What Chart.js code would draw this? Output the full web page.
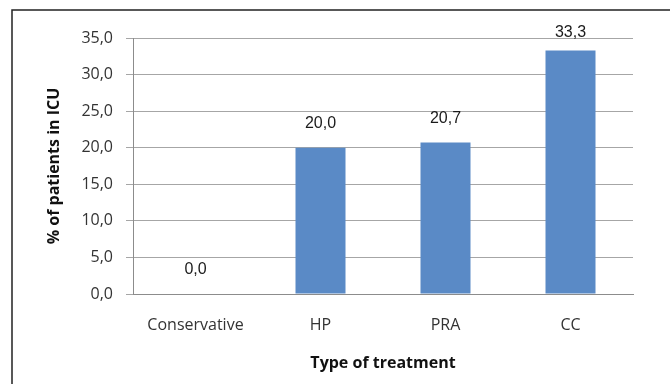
<!DOCTYPE html>
<html>
<head>
<meta charset="utf-8">
<script src="https://cdn.jsdelivr.net/npm/chart.js@4/dist/chart.umd.min.js"></script>
<style>
  html, body { margin: 0; padding: 0; background: #fff; }
  #wrap { position: relative; width: 670px; height: 384px; }
</style>
</head>
<body>
<div id="wrap"><canvas id="c" width="670" height="384"></canvas></div>
<script>
// Share of patients admitted to ICU by type of treatment
const categories = ['Conservative', 'HP', 'PRA', 'CC'];
const icuPercent = [0.0, 20.0, 20.7, 33.3];
const yTicks = [0, 5, 10, 15, 20, 25, 30, 35];

const fmt = v => v.toFixed(1).replace('.', ',');

// Frame around the whole chart
const framePlugin = {
  id: 'frame',
  beforeDraw(chart) {
    const ctx = chart.ctx;
    ctx.save();
    ctx.fillStyle = '#fff';
    ctx.fillRect(0, 0, chart.width, chart.height);
    ctx.strokeStyle = '#222';
    ctx.lineWidth = 1.5;
    ctx.strokeRect(12, 10, 720, 420);
    ctx.restore();
  }
};

// Value labels above each bar
const valueLabels = {
  id: 'valueLabels',
  afterDatasetsDraw(chart) {
    const ctx = chart.ctx;
    const meta = chart.getDatasetMeta(0);
    ctx.save();
    ctx.font = '16px "Liberation Sans", Arial, sans-serif';
    ctx.fillStyle = '#1a1a1a';
    ctx.textAlign = 'center';
    ctx.textBaseline = 'middle';
    meta.data.forEach((bar, i) => {
      const y = Math.max(bar.y - 24, chart.chartArea.top - 5);
      ctx.fillText(fmt(icuPercent[i]), bar.x, y);
    });
    ctx.restore();
  }
};

new Chart(document.getElementById('c'), {
  type: 'bar',
  data: {
    labels: categories,
    datasets: [{
      data: icuPercent,
      backgroundColor: '#5a8ac6',
      borderWidth: 0,
      barPercentage: 0.4,
      categoryPercentage: 1.0
    }]
  },
  options: {
    responsive: false,
    animation: false,
    devicePixelRatio: 1,
    layout: { padding: { left: 0, right: 37, top: 38, bottom: 0 } },
    plugins: { legend: { display: false }, tooltip: { enabled: false } },
    scales: {
      x: {
        grid: { display: false, drawTicks: false, tickLength: 0 },
        border: { display: true, color: '#8c8c8c', width: 1 },
        ticks: {
          color: '#333',
          padding: 22,
          font: { family: '"Open Sans", sans-serif', size: 16 }
        },
        title: {
          display: true,
          text: 'Type of treatment',
          color: '#111',
          font: { family: '"Open Sans", sans-serif', size: 16, weight: 'bold' },
          padding: { top: 0, bottom: 11 }
        },
        afterFit(scale) { scale.height = 90; }
      },
      y: {
        min: 0,
        max: 35,
        afterBuildTicks(scale) { scale.ticks = yTicks.map(v => ({ value: v })); },
        grid: { color: '#a6a6a6', lineWidth: 1, drawTicks: true, tickLength: 7 },
        border: { display: true, color: '#8c8c8c', width: 1 },
        ticks: {
          color: '#333',
          padding: 13,
          font: { family: '"Open Sans", sans-serif', size: 16 },
          callback: v => fmt(v)
        },
        title: {
          display: true,
          text: '% of patients in ICU',
          color: '#111',
          font: { family: '"Open Sans", sans-serif', size: 16, weight: 'bold' },
          padding: { top: 45, bottom: 0 }
        },
        afterFit(scale) { scale.width = 133; }
      }
    }
  },
  plugins: [framePlugin, valueLabels]
});
</script>
</body>
</html>
